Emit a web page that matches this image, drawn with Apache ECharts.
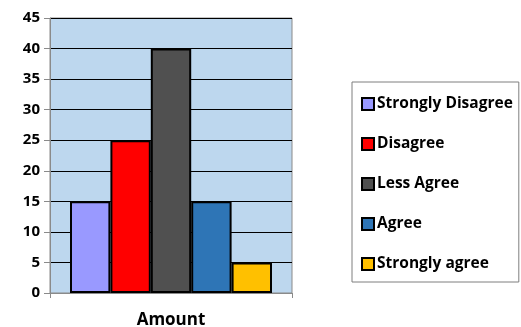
<!DOCTYPE html>
<html>
<head>
<meta charset="utf-8">
<script src="https://cdn.jsdelivr.net/npm/echarts@6/dist/echarts.min.js"></script>
<style>
  html, body { margin: 0; padding: 0; background: #fff; }
  #chart { width: 521px; height: 327px; }
</style>
</head>
<body>
<div id="chart"></div>
<script>
// Survey responses, one bar per answer
const categories = ['Amount'];
const responseNames = ['Strongly Disagree', 'Disagree', 'Less Agree', 'Agree', 'Strongly agree'];
const responseValues = [15, 25, 40, 15, 5];
const responseColors = ['#9999FF', '#FF0000', '#505050', '#2E75B6', '#FFC000'];
const yTicks = { min: 0, max: 45, interval: 5 };

const FONT = '"Open Sans", Lato, sans-serif';

const chart = echarts.init(document.getElementById('chart'), null, { renderer: 'canvas' });

const series = responseNames.map((name, i) => ({
  name: name,
  type: 'bar',
  data: [responseValues[i]],
  barWidth: 40.4,
  barGap: '0%',
  itemStyle: { color: responseColors[i], borderColor: '#000', borderWidth: 2 },
  emphasis: { disabled: true }
}));

chart.setOption({
  animation: false,
  textStyle: { fontFamily: FONT },
  grid: {
    left: 50, top: 18, width: 242, height: 275,
    outerBoundsMode: 'none',
    show: true, backgroundColor: '#BDD7EE', borderColor: '#8a8a8a', borderWidth: 1
  },
  xAxis: {
    type: 'category',
    data: categories,
    axisLine: { lineStyle: { color: '#8a8a8a', width: 1 } },
    axisTick: { show: true, length: 5, lineStyle: { color: '#8a8a8a' } },
    axisLabel: { color: '#000', fontWeight: 'bold', fontSize: 17, fontFamily: FONT, margin: 19 }
  },
  yAxis: {
    type: 'value',
    min: yTicks.min, max: yTicks.max, interval: yTicks.interval,
    axisLine: { show: true, lineStyle: { color: '#8a8a8a', width: 1 } },
    axisTick: { show: true, length: 6, lineStyle: { color: '#8a8a8a' } },
    axisLabel: { color: '#000', fontWeight: 'bold', fontSize: 15, fontFamily: FONT, margin: 10 },
    splitLine: { show: true, lineStyle: { color: '#000', width: 1 } }
  },
  legend: {
    orient: 'vertical',
    left: 352, top: 82,
    padding: [14, 6, 10, 9],
    itemGap: 24,
    itemWidth: 12, itemHeight: 12,
    icon: 'rect',
    borderColor: '#7f7f7f', borderWidth: 1,
    textStyle: { color: '#000', fontWeight: 'bold', fontSize: 15.5, fontFamily: FONT, padding: [0, 0, 0, -2] },
    data: responseNames
  },
  series: series
});
</script>
</body>
</html>
